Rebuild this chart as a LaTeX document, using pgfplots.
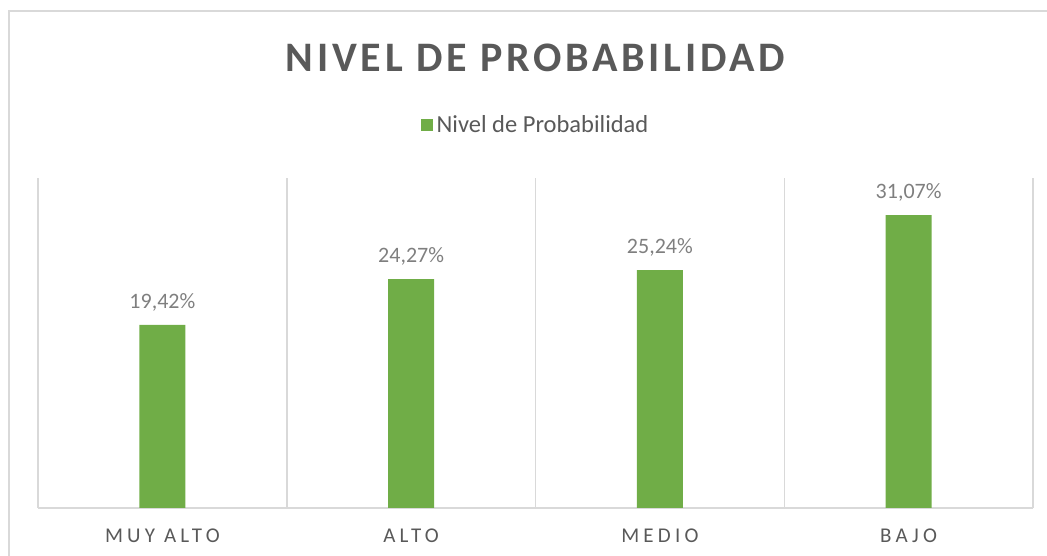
\documentclass[border=0pt]{standalone}
\usepackage{pgfplots}
\pgfplotsset{compat=1.18}
\usepackage{pgfplotstable}
\usepackage{fontspec}
\setmainfont{Carlito}
\definecolor{bargreen}{HTML}{70AD47}
\definecolor{txtgray}{HTML}{595959}
\definecolor{lblgray}{HTML}{7F7F7F}
\definecolor{gridgray}{HTML}{D9D9D9}
\pgfplotstableread{
x y lab
0 19.42 {19,42\%}
1 24.27 {24,27\%}
2 25.24 {25,24\%}
3 31.07 {31,07\%}
}\datatable
\begin{document}
\begin{tikzpicture}
\useasboundingbox (-38pt,-48pt) rectangle (1009pt,508pt);
\draw[gridgray, line width=1.5pt] (-29pt,-80pt) -- (-29pt,497pt) -- (1100pt,497pt);
\begin{axis}[
  at={(0pt,0pt)}, anchor=south west,
  scale only axis, width=995pt, height=330pt,
  xmin=-0.5, xmax=3.5, ymin=0, ymax=35,
  axis x line*=bottom, axis y line=none,
  x axis line style={gridgray, line width=1.5pt, -},
  xtick={0,1,2,3},
  xticklabels={MUY ALTO, ALTO, MEDIO, BAJO},
  xticklabel style={font=\fontsize{21}{24}\selectfont\addfontfeature{LetterSpace=20}, text=txtgray, yshift=-17pt},
  major tick length=0pt,
  minor xtick={-0.5,0.5,1.5,2.5,3.5},
  minor tick length=0pt,
  xminorgrids=true,
  minor grid style={gridgray, line width=1.5pt},
  ytick=\empty,
  legend style={at={(0.5,1.1606)}, anchor=center, draw=none, fill=none,
    font=\fontsize{24.5}{28}\selectfont, text=txtgray, legend cell align=left},
  legend image code/.code={\fill[bargreen] (0pt,-6pt) rectangle (12pt,6pt); \path (14pt,0pt);},
  title={\fontsize{42}{48}\selectfont\bfseries\addfontfeature{LetterSpace=9}NIVEL DE PROBABILIDAD},
  title style={at={(0.5,1.3455)}, anchor=center, text=txtgray},
  nodes near coords={\pgfplotspointmeta},
  point meta=explicit symbolic,
  every node near coord/.append style={font=\fontsize{22}{26}\selectfont, text=lblgray, anchor=south, yshift=10pt},
]
\addplot[ybar, bar width=46pt, fill=bargreen, draw=none] table[x=x, y=y, meta=lab] {\datatable};
\addlegendentry{Nivel de Probabilidad}
\end{axis}
\end{tikzpicture}
\end{document}
